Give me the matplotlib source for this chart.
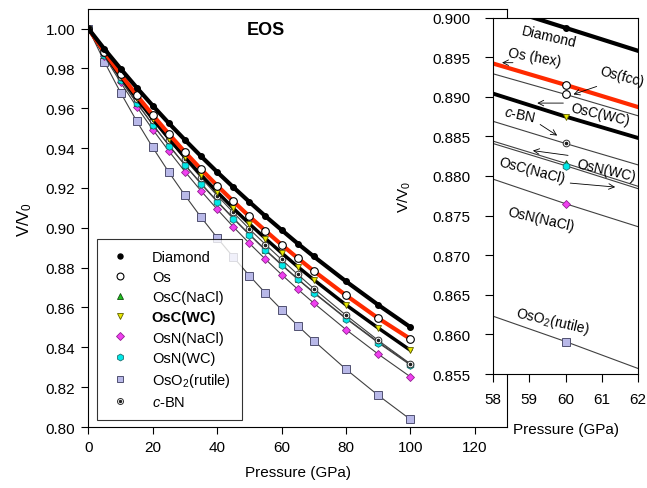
import numpy as np
import matplotlib
matplotlib.use("Agg")
import matplotlib.pyplot as plt
from matplotlib.lines import Line2D
from matplotlib.legend_handler import HandlerTuple

plt.rcParams['font.family'] = ['Liberation Sans', 'DejaVu Sans']
plt.rcParams['mathtext.fontset'] = 'custom'
plt.rcParams['mathtext.rm'] = 'Liberation Sans'
plt.rcParams['mathtext.it'] = 'Liberation Sans:italic'
plt.rcParams['mathtext.bf'] = 'Liberation Sans:bold'

# main panel data (GPa, V/V0)
pressure = [0, 5, 10, 15, 20, 25, 30, 35, 40, 45, 50, 55, 60, 65, 70, 80, 90, 100]
diamond = [1.0, 0.9897, 0.9799, 0.9704, 0.9613, 0.9525, 0.9441, 0.9359, 0.9280,
           0.9204, 0.9130, 0.9058, 0.8989, 0.8921, 0.8856, 0.8731, 0.8613, 0.8501]
os_ = [1.0, 0.9882, 0.9771, 0.9666, 0.9566, 0.9471, 0.9380, 0.9294, 0.9212,
       0.9133, 0.9057, 0.8985, 0.8915, 0.8848, 0.8783, 0.8661, 0.8546, 0.8442]
osc_nacl = [1.0, 0.9868, 0.9744, 0.9628, 0.9518, 0.9415, 0.9316, 0.9223, 0.9134,
            0.9049, 0.8968, 0.8890, 0.8816, 0.8744, 0.8676, 0.8547, 0.8427, 0.8315]
osc_wc = [1.0, 0.9876, 0.9760, 0.9650, 0.9546, 0.9448, 0.9354, 0.9265, 0.9180,
          0.9098, 0.9020, 0.8946, 0.8874, 0.8805, 0.8739, 0.8613, 0.8497, 0.8385]
osn_nacl = [1.0, 0.9860, 0.9730, 0.9608, 0.9493, 0.9385, 0.9282, 0.9185, 0.9093,
            0.9005, 0.8922, 0.8842, 0.8765, 0.8692, 0.8622, 0.8489, 0.8366, 0.8252]
osn_wc = [1.0, 0.9868, 0.9743, 0.9627, 0.9517, 0.9413, 0.9314, 0.9220, 0.9131,
          0.9046, 0.8965, 0.8887, 0.8813, 0.8742, 0.8673, 0.8544, 0.8423, 0.8311]
oso2 = [1.0, 0.9833, 0.9679, 0.9536, 0.9403, 0.9279, 0.9163, 0.9053, 0.8950,
        0.8853, 0.8760, 0.8672, 0.8589, 0.8509, 0.8433, 0.8290, 0.8159, 0.8038]
cbn = [1.0, 0.9877, 0.9759, 0.9648, 0.9542, 0.9440, 0.9344, 0.9251, 0.9162,
       0.9077, 0.8994, 0.8916, 0.8841, 0.8766, 0.8695, 0.8561, 0.8435, 0.8317]

# inset data (58-62 GPa window)
inset_p = [58, 60, 62]
in_diamond = [0.9016, 0.8987, 0.8958]
in_os_hex = [0.8942, 0.8915, 0.8887]
in_os_fcc = [0.8929, 0.8903, 0.8876]
in_osc_wc = [0.8904, 0.8875, 0.8848]
in_cbn = [0.8869, 0.8841, 0.8814]
in_osc_nacl = [0.8844, 0.8816, 0.8787]
in_osn_wc = [0.8841, 0.8813, 0.8784]
in_osn_nacl = [0.8796, 0.8765, 0.8736]
in_oso2 = [0.8623, 0.8591, 0.8557]

thin = dict(color='#404040', lw=0.8)
styles = {
    'Diamond': dict(marker='o', ms=4, mfc='black', mec='black'),
    'Os': dict(marker='o', ms=5.5, mfc='white', mec='black', mew=0.8),
    'OsC(NaCl)': dict(marker='^', ms=5, mfc='#20c020', mec='#105010', mew=0.6),
    'OsC(WC)': dict(marker='v', ms=5, mfc='#e8e800', mec='#606000', mew=0.6),
    'OsN(NaCl)': dict(marker='D', ms=4.5, mfc='#f040f0', mec='#902090', mew=0.6),
    'OsN(WC)': dict(marker='h', ms=5.5, mfc='#00e8e8', mec='#207070', mew=0.6),
    'OsO2': dict(marker='s', ms=5.5, mfc='#b8b8e8', mec='#505070', mew=0.7),
    'cBN': dict(marker='o', ms=4.8, mfc='white', mec='#303030', mew=0.7),
}
dot = dict(marker='o', ms=1.6, mfc='#202020', mec='#202020', ls='none')

fig = plt.figure(figsize=(6.47, 4.89), dpi=100)
ax = fig.add_axes([0.1365, 0.1247, 0.6472, 0.8548])

ax.plot(pressure, oso2, **thin, **styles['OsO2'], zorder=3)
ax.plot(pressure, osn_nacl, **thin, **styles['OsN(NaCl)'], zorder=3)
ax.plot(pressure, osc_nacl, **thin, **styles['OsC(NaCl)'], zorder=3)
ax.plot(pressure, osn_wc, **thin, **styles['OsN(WC)'], zorder=3)
ax.plot(pressure, cbn, **thin, **styles['cBN'], zorder=4)
ax.plot(pressure, cbn, **dot, zorder=4)
ax.plot(pressure, osc_wc, color='black', lw=2.5, **styles['OsC(WC)'], zorder=5)
ax.plot(pressure, os_, color='#ff2a00', lw=3, **styles['Os'], zorder=6)
ax.plot(pressure, diamond, color='black', lw=3, **styles['Diamond'], zorder=7)

ax.set_xlim(0, 130)
ax.set_ylim(0.80, 1.0098)
ax.set_xticks(np.arange(0, 121, 20))
ax.set_yticks(np.arange(0.80, 1.001, 0.02))
ax.yaxis.set_major_formatter(plt.FormatStrFormatter('%.2f'))
ax.tick_params(direction='out', length=5, width=0.8, labelsize=11, pad=4.5)
for s in ax.spines.values():
    s.set_linewidth(0.8)
ax.set_xlabel('Pressure (GPa)', fontsize=11, labelpad=8)
ax.set_ylabel('V/V$_0$', fontsize=12, labelpad=8)
ax.text(0.425, 0.952, 'EOS', transform=ax.transAxes, ha='center', va='center',
        fontsize=13, fontweight='bold')

h = {k: Line2D([], [], ls='none', **v) for k, v in styles.items()}
hdot = Line2D([], [], **dot)
handles = [h['Diamond'], h['Os'], h['OsC(NaCl)'], h['OsC(WC)'], h['OsN(NaCl)'],
           h['OsN(WC)'], h['OsO2'], (h['cBN'], hdot)]
labels = ['Diamond', 'Os', 'OsC(NaCl)', 'OsC(WC)', 'OsN(NaCl)', 'OsN(WC)',
          'OsO$_2$(rutile)', '$c$-BN']
leg = ax.legend(handles, labels, loc='lower left', bbox_to_anchor=(0.021, 0.017),
                borderaxespad=0, fontsize=10.5, frameon=True, fancybox=False,
                edgecolor='black', labelspacing=0.42, handlelength=1.6,
                handletextpad=1.4, borderpad=0.75, markerscale=0.9,
                handler_map={tuple: HandlerTuple(ndivide=1, pad=0)})
leg.get_frame().set_linewidth(0.8)
leg.get_texts()[3].set_fontweight('bold')

# inset
ax2 = fig.add_axes([0.762, 0.2331, 0.2241, 0.7290])
ax2.set_facecolor('white')
ax2.plot(inset_p, in_oso2, **thin, **styles['OsO2'], markevery=[1])
ax2.plot(inset_p, in_osn_nacl, **thin, **styles['OsN(NaCl)'], markevery=[1])
ax2.plot(inset_p, in_osc_nacl, **thin, **styles['OsC(NaCl)'], markevery=[1])
ax2.plot(inset_p, in_osn_wc, **thin, **styles['OsN(WC)'], markevery=[1])
ax2.plot(inset_p, in_cbn, **thin, **styles['cBN'], markevery=[1])
ax2.plot(inset_p[1:2], in_cbn[1:2], **dot)
ax2.plot(inset_p, in_osc_wc, color='black', lw=2.8, **styles['OsC(WC)'], markevery=[1])
ax2.plot(inset_p, in_os_fcc, **thin, **styles['Os'], markevery=[1])
ax2.plot(inset_p, in_os_hex, color='#ff2a00', lw=3, **styles['Os'], markevery=[1])
ax2.plot(inset_p, in_diamond, color='black', lw=3, marker='o', ms=4,
         mfc='black', mec='black', markevery=[1])
ax2.set_xlim(58, 62)
ax2.set_ylim(0.855, 0.900)
ax2.set_xticks([58, 59, 60, 61, 62])
ax2.set_yticks(np.arange(0.855, 0.9001, 0.005))
ax2.yaxis.set_major_formatter(plt.FormatStrFormatter('%.3f'))
ax2.tick_params(direction='out', length=6, width=0.8, labelsize=11, pad=7)
ax2.tick_params(axis='y', pad=10)
for s in ax2.spines.values():
    s.set_linewidth(0.8)
ax2.set_xlabel('Pressure (GPa)', fontsize=11)
ax2.xaxis.set_label_coords(0.5, -0.135)
ax2.set_ylabel('V/V$_0$', fontsize=11)
ax2.yaxis.set_label_coords(-0.55, 0.5)

lab = dict(fontsize=10, ha='center', va='center')
ax2.text(59.55, 0.8976, 'Diamond', rotation=-13, **lab)
ax2.text(59.15, 0.8951, 'Os (hex)', rotation=-10, **lab)
ax2.text(61.55, 0.8926, 'Os(fcc)', rotation=-15, **lab)
ax2.text(60.95, 0.8878, 'OsC(WC)', rotation=-13, **lab)
ax2.text(58.75, 0.8878, '$c$-BN', rotation=-12, **lab)
ax2.text(61.12, 0.8808, 'OsN(WC)', rotation=-13, **lab)
ax2.text(59.07, 0.8807, 'OsC(NaCl)', rotation=-15, **lab)
ax2.text(59.32, 0.8746, 'OsN(NaCl)', rotation=-13, **lab)
ax2.text(59.64, 0.8617, 'OsO$_2$(rutile)', rotation=-13, **lab)

arr = dict(arrowstyle='->', lw=0.6, color='black', shrinkA=0, shrinkB=0)
ax2.annotate('', xy=(58.25, 0.8943), xytext=(58.55, 0.8943), arrowprops=arr)
ax2.annotate('', xy=(60.22, 0.8903), xytext=(60.86, 0.8913), arrowprops=arr)
ax2.annotate('', xy=(59.22, 0.8892), xytext=(59.94, 0.8892), arrowprops=arr)
ax2.annotate('', xy=(59.77, 0.8851), xytext=(59.30, 0.8865), arrowprops=arr)
ax2.annotate('', xy=(59.10, 0.8832), xytext=(60.07, 0.8826), arrowprops=arr)
ax2.annotate('', xy=(61.37, 0.8786), xytext=(60.13, 0.8791), arrowprops=arr)

fig.savefig('out.png', dpi=100)
